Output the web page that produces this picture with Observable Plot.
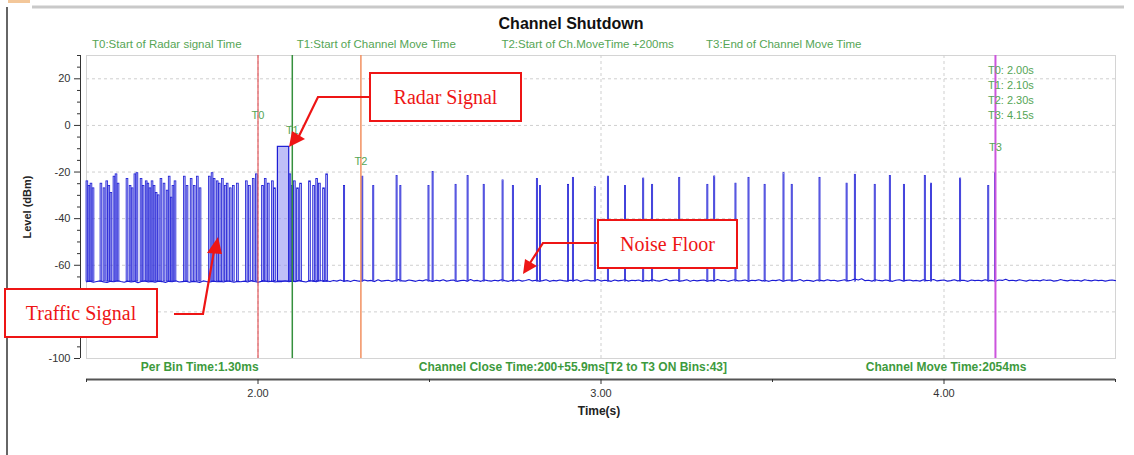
<!DOCTYPE html>
<html><head><meta charset="utf-8">
<script src="https://cdn.jsdelivr.net/npm/d3@7"></script>
<script src="https://cdn.jsdelivr.net/npm/@observablehq/plot@0.6"></script>
<style>
html,body{margin:0;padding:0;background:#fff;}
#chart{position:relative;width:1134px;height:455px;overflow:hidden;}
#chart svg{font-family:"Liberation Sans",Arial,sans-serif;overflow:visible;}
</style></head><body><div id="chart"></div>
<script>
// ---------- data ----------
const chartTitle = "Channel Shutdown";
const eventNames = ["T0", "T1", "T2", "T3"];
const eventTimes = [2.00, 2.10, 2.30, 4.15];
const eventDescriptions = ["T0:Start of Radar signal Time", "T1:Start of Channel Move Time", "T2:Start of Ch.MoveTime +200ms", "T3:End of Channel Move Time"];
const summaryTexts = ["Per Bin Time:1.30ms", "Channel Close Time:200+55.9ms[T2 to T3 ON Bins:43]", "Channel Move Time:2054ms"];
const xTickValues = [2, 3, 4];
const xTickLabels = ["2.00", "3.00", "4.00"];
const xMinorTicks = [1.5, 2.5, 3.5, 4.5];
const yTickValues = [20, 0, -20, -40, -60, -80, -100];
const yTickLabels = ["20", "0", "-20", "-40", "-60", "", "-100"]; // -80 is hidden under the annotation box in the reference
const yMinorTicks = [30, 25, 15, 10, 5, -5, -10, -15, -25, -30, -35, -45, -50, -55, -65, -70, -75, -85, -90, -95];
const xTitle = "Time(s)";
const yTitle = "Level (dBm)";
const annotationTexts = ["Radar Signal", "Noise Floor", "Traffic Signal"];

// noise floor (dBm), one reading every 10 ms from 1.50 s
const noiseStart = 1.5, noiseStepS = 0.01;
const noiseLevels = [
-67.1,-66.8,-67.3,-67.0,-66.7,-67.2,-67.4,-66.9,-67.1,-66.6,-67.0,-67.3,-66.8,-67.2,-66.9,-67.5,-67.0,-66.7,-67.2,-66.9,
-67.3,-66.8,-67.0,-67.4,-66.9,-67.1,-66.6,-67.2,-67.0,-66.8,-67.3,-66.9,-67.1,-67.4,-66.7,-67.0,-67.2,-66.8,-67.1,-66.9,
-67.2,-66.7,-67.0,-67.3,-66.9,-67.1,-66.8,-67.2,-66.6,-67.0,-67.3,-66.9,-66.7,-67.1,-66.8,-67.2,-66.9,-67.0,-66.6,-67.1,
-66.8,-67.0,-66.5,-66.9,-67.2,-66.6,-66.8,-67.1,-66.4,-66.9,-66.7,-67.0,-66.5,-66.8,-66.3,-66.9,-66.6,-67.0,-66.4,-66.7,
-66.9,-66.3,-66.7,-66.5,-67.0,-66.2,-66.8,-66.6,-66.4,-66.9,-66.5,-66.1,-66.7,-66.8,-66.3,-66.6,-66.9,-66.4,-66.7,-66.2,
-66.6,-66.9,-66.4,-66.7,-66.2,-66.8,-66.5,-66.3,-66.9,-66.6,-66.4,-66.8,-66.1,-66.7,-66.5,-66.9,-66.3,-66.6,-66.8,-66.4,
-66.7,-66.2,-66.6,-66.9,-66.4,-66.7,-66.3,-66.8,-66.5,-66.1,-66.7,-66.4,-66.8,-66.6,-66.2,-66.9,-66.5,-66.7,-66.3,-66.6,
-66.8,-66.4,-66.6,-66.2,-66.9,-66.5,-66.3,-66.7,-66.6,-66.1,-66.8,-66.4,-66.6,-66.9,-66.3,-66.7,-66.5,-66.2,-66.8,-66.4,
-66.6,-66.3,-66.9,-66.5,-66.7,-66.2,-66.6,-66.8,-66.4,-66.0,-66.7,-66.5,-66.3,-66.8,-66.6,-66.2,-66.9,-66.4,-66.7,-66.5,
-66.3,-66.8,-66.5,-66.7,-66.1,-66.6,-66.4,-66.9,-66.5,-66.2,-66.7,-66.6,-66.3,-66.8,-66.4,-66.6,-66.2,-66.7,-66.5,-66.9,
-66.4,-66.6,-66.2,-66.8,-66.5,-66.3,-66.7,-66.6,-66.1,-66.8,-66.4,-66.6,-66.9,-66.3,-66.5,-66.7,-66.2,-66.6,-66.4,-66.8,
-66.5,-66.2,-66.7,-66.4,-65.9,-66.3,-65.8,-66.6,-66.4,-66.8,-66.2,-66.5,-66.7,-66.3,-66.6,-66.9,-66.4,-66.2,-66.7,-66.5,
-66.3,-66.7,-66.5,-66.8,-66.2,-66.6,-66.4,-66.1,-66.7,-66.5,-66.3,-66.8,-66.6,-66.2,-66.7,-66.4,-66.5,-66.9,-66.3,-66.6,
-66.4,-66.7,-66.2,-66.6,-66.5,-66.8,-66.3,-66.5,-66.0,-66.6,-66.4,-66.7,-66.2,-66.5,-66.8,-66.3,-66.6,-66.4,-66.7,-66.2,
-66.5,-66.3,-66.8,-66.6,-66.1,-66.5,-66.7,-66.3,-66.6,-66.4,-66.8,-66.2,-66.5,-66.7,-66.3,-66.6,-66.4,-66.8,-66.5,-66.3,
-66.6];

// pulses: start time (s), peak level (dBm), duration (ms)
const pulseTimes = [
1.500,1.506,1.512,1.518,1.541,1.550,1.558,1.564,1.570,1.579,1.585,1.591,
1.617,1.626,1.632,1.640,1.646,1.658,1.664,1.673,1.678,1.684,1.690,1.696,1.702,1.708,
1.716,1.725,1.734,1.740,1.746,1.751,1.757,1.784,1.792,1.804,1.813,1.822,1.830,
1.857,1.865,1.871,1.880,1.886,1.895,1.904,1.909,1.918,1.927,1.939,
1.965,1.974,1.985,1.994,2.012,2.020,2.029,2.041,2.047,
2.092,2.099,2.105,2.114,2.123,2.149,2.161,2.170,2.178,2.190,2.199,
2.251,2.304,2.336,2.404,2.415,2.497,2.509,2.576,2.611,2.658,2.713,2.743,2.813,2.822,
2.904,2.918,2.982,3.020,3.070,3.123,3.149,3.228,3.310,3.330,3.392,3.430,3.477,3.532,
3.556,3.637,3.716,3.740,3.798,3.842,3.883,3.944,3.962,4.047,4.129,4.149];
const pulsePeaks = [
-24,-26,-25,-27,-25,-27,-24,-26,-29,-22,-21,-25,
-23,-26,-27,-21,-20.5,-23,-26,-24,-25,-27,-24,-26,-29,-30,
-23,-25,-28,-22,-31,-26,-24,-22,-26,-23,-26,-22,-27,
-22,-20.5,-23,-24,-25,-23,-26,-25,-27,-26,-25,
-24,-26,-23,-21,-26,-23,-25,-24,-27,
-21,-26,-24,-27,-25,-24,-26,-23,-25,-27,-21,
-26,-22,-26,-21.7,-26,-26,-20,-25.5,-21.7,-25.5,-23.6,-26,-23,-26,
-25.5,-22.5,-26.5,-22,-26,-22.8,-25.5,-22.5,-25.5,-21.9,-25,-22.5,-25.5,-20.5,
-25.5,-22.5,-25,-21.2,-25.5,-21.7,-25.5,-21.7,-25,-22.8,-26,-20.5];
const pulseDurMs = [
5,5,5,5,5,5,5,5,5,5,5,5,
5,5,5,5,5,5,5,5,5,5,5,5,5,5,
5,5,5,5,5,5,5,5,5,5,5,5,5,
5,5,5,5,5,5,5,5,5,5,5,
5,5,5,5,5,5,5,5,5,
5,5,5,5,5,5,5,5,5,5,5,
3,3,3,3,3,3,3,3,3,3,3,3,3,3,
3,3,3,3,3,3,3,3,3,3,3,3,3,3,
3,3,3,3,3,3,3,3,3,3,3,3];
const radarStart = 2.058, radarEnd = 2.091, radarLevel = -9.2;
const floorLevel = -67;

// ---------- tables ----------
const noise = noiseLevels.map((v, i) => ({t: noiseStart + i * noiseStepS, v}));
const pulses = pulseTimes.map((t, i) => ({t1: t, t2: t + pulseDurMs[i] / 1000, peak: pulsePeaks[i]}));
const radar = [{t1: radarStart, t2: radarEnd, peak: radarLevel}];
const events = eventNames.map((n, i) => ({name: n, time: eventTimes[i], desc: eventDescriptions[i]}));

// ---------- styles ----------
const eventColor = {T0: "#e0383c", T1: "#35903d", T2: "#f29060", T3: "#cc55dd"};
const eventWidth = {T0: 1, T1: 1.5, T2: 1.5, T3: 2};
const eventLabelY = {T0: 4.3, T1: -2.1, T2: -15.4, T3: -9.4};
const labelGreen = "#55a555";
const boldGreen = "#3d9a3d";
const traceBlue = "#1c1cd4";
const pulseFill = "#9494f2";

const gridStyle = {stroke: "#cfcfcf", strokeDasharray: "3,3", strokeWidth: 1};

const plot = Plot.plot({
  width: 1134, height: 455,
  marginLeft: 86, marginRight: 19, marginTop: 55, marginBottom: 97,
  x: {domain: [1.5, 4.5], axis: null},
  y: {domain: [-100, 30], axis: null},
  style: {fontFamily: "Liberation Sans, Arial, sans-serif", background: "transparent"},
  marks: [
    Plot.frame({stroke: "#d4d4d4"}),
    Plot.ruleY(yTickValues.filter(d => d > -100), gridStyle),
    Plot.ruleX(xTickValues, gridStyle),
    // trace
    Plot.line(noise, {x: "t", y: "v", stroke: traceBlue, strokeWidth: 1.1}),
    Plot.rect(pulses, {x1: "t1", x2: "t2", y1: floorLevel, y2: "peak", fill: pulseFill, fillOpacity: 0.6, stroke: traceBlue, strokeWidth: 0.8}),
    Plot.rect(radar, {x1: "t1", x2: "t2", y1: floorLevel, y2: "peak", fill: pulseFill, fillOpacity: 0.6, stroke: traceBlue, strokeWidth: 1.2}),
    // event lines
    ...eventNames.map(n => Plot.ruleX(events.filter(d => d.name === n), {x: "time", stroke: eventColor[n], strokeWidth: eventWidth[n]})),
    Plot.text(events, {x: "time", y: d => eventLabelY[d.name], text: "name", fill: labelGreen, fontSize: 11, textAnchor: "middle"}),
    // bottom summary
    Plot.text(summaryTexts.map((s, i) => ({s, x: [1.830, 2.918, 4.006][i]})), {x: "x", y: -100, dy: 9, text: "s", fill: boldGreen, fontSize: 12, fontWeight: "bold", textAnchor: "middle"}),
    // y axis
    Plot.ruleX([1.5], {dx: -6, stroke: "#333", strokeWidth: 1}),
    Plot.axisY({ticks: yTickValues, tickFormat: d => yTickLabels[yTickValues.indexOf(d)], tickSize: 6, tickPadding: 4, dx: -6, fontSize: 11, color: "#333", label: null}),
    Plot.axisY({ticks: yMinorTicks, tickFormat: () => "", tickSize: 3, dx: -6, color: "#333", label: null}),
    // x axis
    Plot.ruleY([-100], {dy: 21, stroke: "#555", strokeWidth: 2}),
    Plot.axisX({ticks: xTickValues, tickFormat: d => xTickLabels[xTickValues.indexOf(d)], tickSize: 5, tickPadding: 5, dy: 21, fontSize: 11, color: "#333", label: null}),
    Plot.axisX({ticks: xMinorTicks, tickFormat: () => "", tickSize: 3, dy: 21, color: "#333", label: null})
  ]
});
document.getElementById("chart").appendChild(plot);

// ---------- overlay text and annotations ----------
const svg = d3.select(plot);
const over = svg.append("g");
// window frame
over.append("rect").attr("x", 8).attr("y", 0).attr("width", 22).attr("height", 3).attr("fill", "#f3c79a");
over.append("line").attr("x1", 32).attr("x2", 1124).attr("y1", 7).attr("y2", 7).attr("stroke", "#c9c9c9").attr("stroke-width", 3);
over.append("line").attr("x1", 7).attr("x2", 7).attr("y1", 7).attr("y2", 455).attr("stroke", "#666").attr("stroke-width", 2);

over.append("text").attr("x", 571).attr("y", 29).attr("text-anchor", "middle")
  .attr("font-size", 16).attr("font-weight", "bold").attr("fill", "#111").text(chartTitle);
events.forEach((d, i) => {
  over.append("text").attr("x", 92 + i * 204.7).attr("y", 48).attr("font-size", 11.5)
    .attr("text-anchor", "start").attr("fill", labelGreen).text(d.desc);
  over.append("text").attr("x", 988).attr("y", 74 + i * 15).attr("font-size", 11)
    .attr("text-anchor", "start").attr("fill", labelGreen).text(`${d.name}: ${d.time.toFixed(2)}s`);
});
over.append("text").attr("x", 599).attr("y", 415).attr("text-anchor", "middle")
  .attr("font-size", 12).attr("font-weight", "bold").attr("fill", "#222").text(xTitle);
over.append("text").attr("transform", "translate(31,207) rotate(-90)").attr("text-anchor", "middle")
  .attr("font-size", 11).attr("font-weight", "bold").attr("fill", "#222").text(yTitle);

const red = "#ee1515";
function box(x, y, w, h, label) {
  over.append("rect").attr("x", x).attr("y", y).attr("width", w).attr("height", h)
    .attr("fill", "#fff").attr("stroke", red).attr("stroke-width", 2);
  over.append("text").attr("x", x + w / 2).attr("y", y + h / 2 + 7).attr("text-anchor", "middle")
    .attr("font-family", "Liberation Serif, Times New Roman, serif").attr("font-size", 20)
    .attr("fill", red).text(label);
}
function arrow(points, head) {
  over.append("polyline").attr("points", points.map(p => p.join(",")).join(" "))
    .attr("fill", "none").attr("stroke", red).attr("stroke-width", 2.2);
  over.append("polygon").attr("points", head.map(p => p.join(",")).join(" ")).attr("fill", red);
}
box(370, 73, 151, 48, annotationTexts[0]);
arrow([[370, 97], [318, 97], [299, 136]], [[289, 147], [292, 131], [305, 139]]);
box(598, 220, 139, 48, annotationTexts[1]);
arrow([[598, 243], [543, 243], [530, 263]], [[523, 274], [525, 259], [537, 266]]);
box(5, 289, 152, 48, annotationTexts[2]);
arrow([[174, 314], [203, 314], [214, 251]], [[218, 237], [207, 253], [222, 254]]);
</script></body></html>
